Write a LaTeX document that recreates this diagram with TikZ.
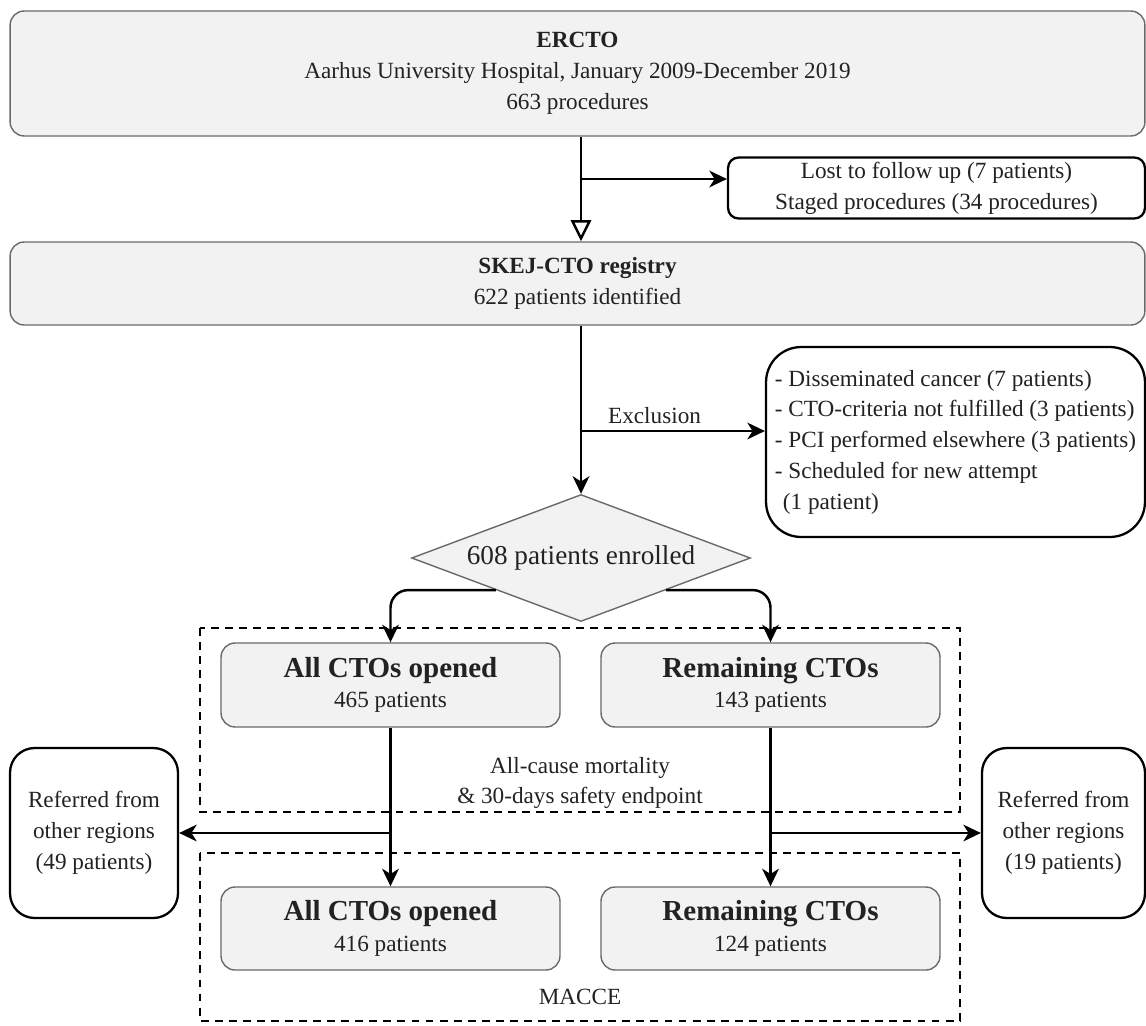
\documentclass[tikz,border=0pt]{standalone}
\usepackage{fontspec}
\setmainfont{Liberation Serif}
\usetikzlibrary{positioning,calc,arrows.meta,shapes.geometric}
\definecolor{boxfill}{HTML}{F2F2F2}
\definecolor{boxline}{HTML}{6A6A6A}
\definecolor{ink}{HTML}{222222}
\tikzset{gbox/.style={draw=boxline,fill=boxfill,line width=0.8pt,rounded corners=8pt,align=center,inner sep=0pt}  }
\tikzset{wbox/.style={draw=black,fill=white,line width=1.3pt,align=center,inner sep=0pt}  }
\tikzset{arr/.style={-{Stealth[length=10pt,width=9.5pt,inset=3pt]},line width=1.4pt}  }
\tikzset{hollow/.style={-{Triangle[open,length=12pt,width=11.5pt,fill=white]},line width=1.4pt}  }
\tikzset{frame/.style={dash pattern=on 4.5pt off 3.5pt,line width=1pt}  }
\def\ttl{\fontsize{16.5}{19}\selectfont\bfseries}
\begin{document}
\begin{tikzpicture}[x=0.02cm,y=-0.02cm,text=ink,font=\fontsize{13.2}{17.5}\selectfont]
	\useasboundingbox (0,0) rectangle (1146,1025);

	\node[gbox,minimum width=22.7cm,minimum height=2.5cm] (ercto) at (577.5,73.5)
		{\textbf{ERCTO}\\Aarhus University Hospital, January 2009-December 2019\\663 procedures};
	\node[wbox,rounded corners=6pt,minimum width=8.34cm,minimum height=1.22cm] (lost) at (936.5,188)
		{Lost to follow up (7 patients)\\Staged procedures (34 procedures)};
	\node[gbox,minimum width=22.7cm,minimum height=1.66cm] (skej) at (577.5,283.5)
		{\textbf{SKEJ-CTO registry}\\622 patients identified};
	\node[wbox,rounded corners=20pt,minimum width=7.58cm,minimum height=3.8cm,align=left] (excl) at (955.5,442)
		{- Disseminated cancer (7 patients)\\- CTO-criteria not fulfilled (3 patients)\\- PCI performed elsewhere (3 patients)\\- Scheduled for new attempt\\\hspace*{0.35em}(1 patient)};
	\node[diamond,aspect=2.67,draw=boxline,fill=boxfill,line width=0.8pt,inner sep=0pt,minimum width=6.78cm,minimum height=2.54cm,font=\fontsize{15.5}{18}\selectfont] (dia) at (581,558) {608 patients enrolled};

	\node[gbox,minimum width=6.78cm,minimum height=1.68cm] (open1) at (390.5,685) {{\ttl All CTOs opened}\\465 patients};
	\node[gbox,minimum width=6.78cm,minimum height=1.68cm] (rem1) at (770.5,685) {{\ttl Remaining CTOs}\\143 patients};
	\node[gbox,minimum width=6.78cm,minimum height=1.66cm] (open2) at (390.5,928.5) {{\ttl All CTOs opened}\\416 patients};
	\node[gbox,minimum width=6.78cm,minimum height=1.66cm] (rem2) at (770.5,928.5) {{\ttl Remaining CTOs}\\124 patients};

	\node[wbox,rounded corners=14pt,minimum width=3.36cm,minimum height=3.4cm] (refl) at (94,833) {Referred from\\other regions\\(49 patients)};
	\node[wbox,rounded corners=14pt,minimum width=3.26cm,minimum height=3.4cm] (refr) at (1063.5,833) {Referred from\\other regions\\(19 patients)};

	\draw[frame] (200,628) rectangle (960,812);
	\draw[frame] (200,853) rectangle (960,1021);
	\node (mort) at (580,783) [align=center] {All-cause mortality\\\& 30-days safety endpoint};
	\node (macce) at (580,997) {MACCE};

	\coordinate (lsj) at (581,179);
	\coordinate (exj) at (581,431);
	\draw[hollow] (ercto.south -| dia) -- (skej.north -| dia);
	\draw[arr] (lsj) -- (lsj -| lost.west);
	\draw[arr] (skej.south -| dia) -- (dia.north);
	\draw[arr] (exj) -- node[above,pos=0.4] {Exclusion} (exj -| excl.west);
	\draw[arr,rounded corners=10pt] (dia.south west) -| (open1.north);
	\draw[arr,rounded corners=10pt] (dia.south east) -| (rem1.north);
	\draw[arr] (open1) -- (open2);
	\draw[arr] (rem1) -- (rem2);
	\draw[arr] (open1.south |- refl.east) -- (refl.east);
	\draw[arr] (rem1.south |- refr.west) -- (refr.west);
\end{tikzpicture}
\end{document}
